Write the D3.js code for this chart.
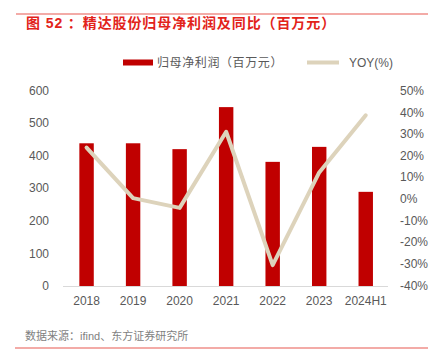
<!DOCTYPE html>
<html><head><meta charset="utf-8">
<script src="https://cdn.jsdelivr.net/npm/d3@7"></script>
<style>body{margin:0;background:#fff}svg{display:block}</style>
</head><body>
<script>
const categories = ["2018","2019","2020","2021","2022","2023","2024H1"];
const profit = [438, 438, 420, 549, 381, 427, 289];
const yoy = [23.7, 0.3, -4.2, 31.0, -30.7, 12.2, 38.6];
const leftTicks = [0,100,200,300,400,500,600];
const rightTicks = [-40,-30,-20,-10,0,10,20,30,40,50];

const W=432,H=357;
const svg=d3.select("body").append("svg").attr("width",W).attr("height",H);
const font="'Liberation Sans','Noto Sans CJK SC',sans-serif";

// top & bottom rules
svg.append("line").attr("x1",16).attr("x2",428).attr("y1",14).attr("y2",14).attr("stroke","#ef8f8a").attr("stroke-width",1.5);
svg.append("line").attr("x1",15).attr("x2",428).attr("y1",348).attr("y2",348).attr("stroke","#ef8f8a").attr("stroke-width",1.5);

svg.append("text").attr("x",26).attr("y",28).attr("font-family",font).attr("font-size",14).attr("font-weight","bold").attr("letter-spacing",0.9).attr("fill","#e2231a").text("图 52 ：精达股份归母净利润及同比（百万元）");
svg.append("text").attr("x",25).attr("y",340).attr("font-family",font).attr("font-size",11).attr("fill","#7f7f7f").text("数据来源：ifind、东方证券研究所");

const x=d3.scaleBand().domain(categories).range([63.3,389]).paddingInner(0.69).paddingOuter(0.345);
const yL=d3.scaleLinear().domain([0,600]).range([286,90.5]);
const yR=d3.scaleLinear().domain([-40,50]).range([285.3,90.7]);

// left ticks
svg.append("g").selectAll("text").data(leftTicks).join("text")
 .attr("x",49).attr("y",d=>yL(d)).attr("dy","0.35em").attr("text-anchor","end")
 .attr("font-family",font).attr("font-size",12).attr("fill","#595959").text(d=>d);
// right ticks
svg.append("g").selectAll("text").data(rightTicks).join("text")
 .attr("x",400).attr("y",d=>yR(d)).attr("dy","0.35em").attr("text-anchor","start")
 .attr("font-family",font).attr("font-size",12).attr("fill","#595959").text(d=>d+"%");

// bars
svg.append("g").selectAll("rect").data(profit).join("rect")
 .attr("x",(d,i)=>x(categories[i])).attr("width",x.bandwidth())
 .attr("y",d=>yL(d)).attr("height",d=>yL(0)-yL(d)).attr("fill","#c00000");

// axis line
svg.append("line").attr("x1",63).attr("x2",388).attr("y1",286.5).attr("y2",286.5).attr("stroke","#d9d9d9").attr("stroke-width",1);

// x labels
svg.append("g").selectAll("text").data(categories).join("text")
 .attr("x",d=>x(d)+x.bandwidth()/2).attr("y",305).attr("text-anchor","middle")
 .attr("font-family",font).attr("font-size",12).attr("fill","#595959").text(d=>d);

// line
const line=d3.line().x((d,i)=>x(categories[i])+x.bandwidth()/2).y(d=>yR(d));
svg.append("path").datum(yoy).attr("d",line).attr("fill","none").attr("stroke","#ddd3bb").attr("stroke-width",4).attr("stroke-linejoin","round").attr("stroke-linecap","round");

// legend
svg.append("rect").attr("x",123).attr("y",59.5).attr("width",30).attr("height",6).attr("fill","#c00000");
svg.append("text").attr("x",157).attr("y",62.5).attr("dy","0.35em").attr("font-family",font).attr("font-size",12).attr("letter-spacing",0.6).attr("fill","#595959").text("归母净利润（百万元）");
svg.append("line").attr("x1",307).attr("x2",339).attr("y1",62.5).attr("y2",62.5).attr("stroke","#ddd3bb").attr("stroke-width",4);
svg.append("text").attr("x",349).attr("y",62.5).attr("dy","0.35em").attr("font-family",font).attr("font-size",12).attr("fill","#595959").text("YOY(%)");
</script>
</body></html>
